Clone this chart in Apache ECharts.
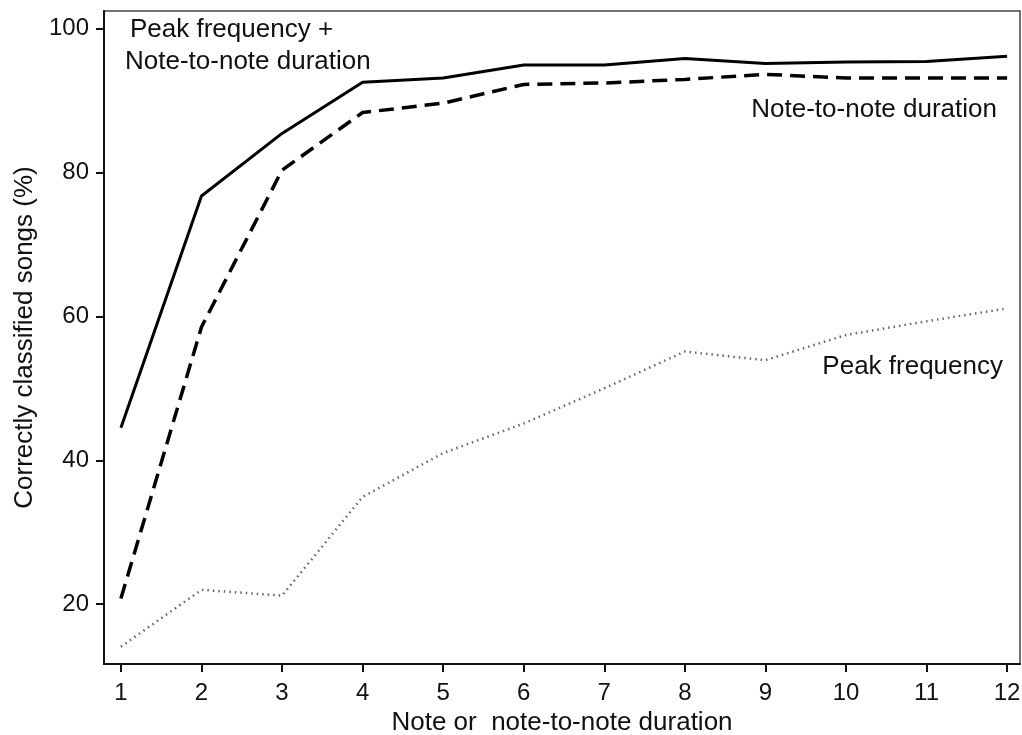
<!DOCTYPE html>
<html>
<head>
<meta charset="utf-8">
<script src="https://cdn.jsdelivr.net/npm/echarts@6/dist/echarts.min.js"></script>
<style>
html,body{margin:0;padding:0;background:#fff;}
#chart{width:1022px;height:735px;}
</style>
</head>
<body>
<div id="chart"></div>
<script>
const categories = [1, 2, 3, 4, 5, 6, 7, 8, 9, 10, 11, 12];
const combined = [44.5, 76.7, 85.4, 92.5, 93.1, 94.9, 94.9, 95.8, 95.1, 95.3, 95.4, 96.1];
const noteToNote = [20.8, 58.5, 80.3, 88.3, 89.6, 92.2, 92.4, 92.9, 93.6, 93.1, 93.1, 93.1];
const peakFreq = [14.1, 22.0, 21.2, 34.9, 41.0, 45.1, 50.0, 55.1, 53.9, 57.4, 59.3, 61.1];
const xTicks = [1, 2, 3, 4, 5, 6, 7, 8, 9, 10, 11, 12];
const yTicks = [20, 40, 60, 80, 100];

const FONT = '"Liberation Sans", Arial, Helvetica, sans-serif';
const pairs = arr => categories.map((c, i) => [c, arr[i]]);

const chart = echarts.init(document.getElementById('chart'), null, {renderer: 'canvas'});
chart.setOption({
  animation: false,
  backgroundColor: '#fff',
  grid: {left: 104, top: 11, right: 2, bottom: 71, containLabel: false, outerBoundsMode: 'none',
         show: true, borderColor: '#444', borderWidth: 1.5, backgroundColor: 'transparent'},
  xAxis: {
    type: 'value', min: 0.79, max: 12.16,
    name: 'Note or  note-to-note duration', nameLocation: 'middle', nameGap: 42,
    nameTextStyle: {fontFamily: FONT, fontSize: 26, color: '#111'},
    axisLine: {show: true, lineStyle: {color: '#111', width: 2}},
    axisTick: {show: true, length: 8, lineStyle: {color: '#111', width: 2}, customValues: xTicks},
    axisLabel: {fontFamily: FONT, fontSize: 24, color: '#111', margin: 17, customValues: xTicks},
    splitLine: {show: false}
  },
  yAxis: {
    type: 'value', min: 11.7, max: 102.4,
    name: 'Correctly classified songs (%)', nameLocation: 'middle', nameGap: 64,
    nameTextStyle: {fontFamily: FONT, fontSize: 26, color: '#111'},
    axisLine: {show: true, lineStyle: {color: '#111', width: 2}},
    axisTick: {show: true, length: 8, lineStyle: {color: '#111', width: 2}, customValues: yTicks},
    axisLabel: {fontFamily: FONT, fontSize: 24, color: '#111', margin: 15, customValues: yTicks},
    splitLine: {show: false}
  },
  series: [
    {type: 'line', data: pairs(combined), symbol: 'none', lineStyle: {color: '#000', width: 3, type: 'solid'}},
    {type: 'line', data: pairs(noteToNote), symbol: 'none', lineStyle: {color: '#000', width: 3.5, type: [15, 8]}},
    {type: 'line', data: pairs(peakFreq), symbol: 'none', lineStyle: {color: '#666', width: 2.5, type: [1.5, 4]}}
  ],
  graphic: [
    {type: 'text', left: 130, top: 17, style: {text: 'Peak frequency +', fontFamily: FONT, fontSize: 26, fill: '#111'}},
    {type: 'text', left: 125, top: 49, style: {text: 'Note-to-note duration', fontFamily: FONT, fontSize: 26, fill: '#111'}},
    {type: 'text', right: 25, top: 97, style: {text: 'Note-to-note duration', fontFamily: FONT, fontSize: 26, fill: '#111'}},
    {type: 'text', right: 19, top: 354, style: {text: 'Peak frequency', fontFamily: FONT, fontSize: 26, fill: '#111'}}
  ]
});
</script>
</body>
</html>
